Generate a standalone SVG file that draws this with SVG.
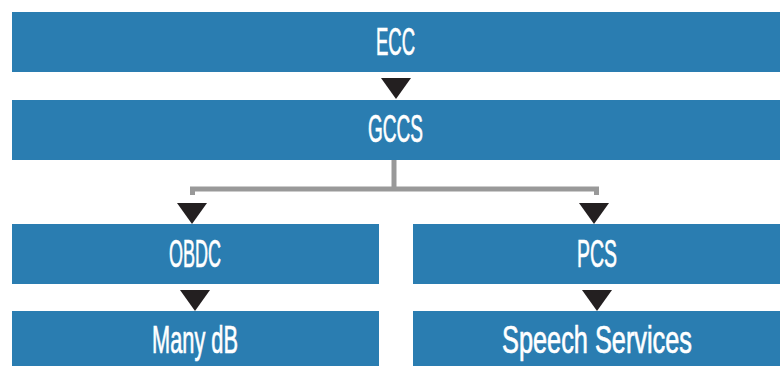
<svg xmlns="http://www.w3.org/2000/svg" width="783" height="366" viewBox="0 0 783 366">
<style>
.box{fill:#2a7db1}
.lbl{fill:#ffffff;stroke:#ffffff;stroke-width:0.7;font-family:"Liberation Sans",Arial,sans-serif;font-size:38px;text-anchor:middle}
.tri{fill:#231f20}
.wire{fill:none;stroke:#999999;stroke-width:5;stroke-linecap:butt;stroke-linejoin:miter}
</style>
<rect width="783" height="366" fill="#ffffff"/>
<g id="ecc"><rect class="box" x="12" y="12" width="768" height="60"/><text class="lbl" x="395.5" y="55" textLength="39" lengthAdjust="spacingAndGlyphs">ECC</text></g>
<g id="gccs"><rect class="box" x="12" y="100" width="768" height="60"/><text class="lbl" x="395.5" y="142" textLength="55" lengthAdjust="spacingAndGlyphs">GCCS</text></g>
<g id="obdc"><rect class="box" x="12" y="224" width="367" height="60"/><text class="lbl" x="195" y="267" textLength="52" lengthAdjust="spacingAndGlyphs">OBDC</text></g>
<g id="pcs"><rect class="box" x="413" y="224" width="367" height="60"/><text class="lbl" x="597" y="267" textLength="40" lengthAdjust="spacingAndGlyphs">PCS</text></g>
<g id="manydb"><rect class="box" x="12" y="311" width="367" height="55"/><text class="lbl" x="195" y="353" textLength="86" lengthAdjust="spacingAndGlyphs">Many dB</text></g>
<g id="speech"><rect class="box" x="413" y="311" width="367" height="55"/><text class="lbl" x="597" y="353" textLength="190" lengthAdjust="spacingAndGlyphs">Speech Services</text></g>
<g id="connectors">
<path class="wire" d="M394 160 V189 M192.5 195 V189 H596.5 V195"/>
<polygon class="tri" points="381,78 411,78 396,99"/>
<polygon class="tri" points="177,203 207,203 192,224"/>
<polygon class="tri" points="579,203 609,203 594,224"/>
<polygon class="tri" points="180,290 210,290 195,311"/>
<polygon class="tri" points="582,290 612,290 597,311"/>
</g>
</svg>
